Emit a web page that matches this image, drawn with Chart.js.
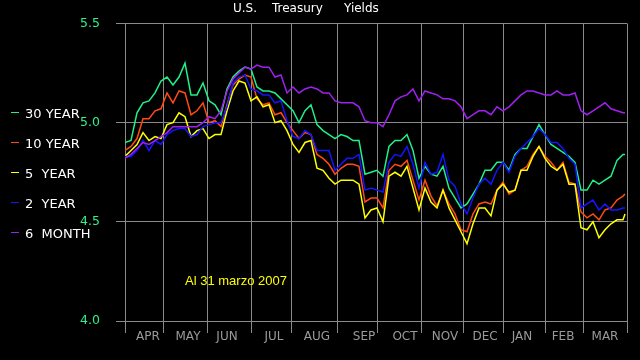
<!DOCTYPE html>
<html>
<head>
<meta charset="utf-8">
<title>U.S. Treasury Yields</title>
<script src="https://cdn.jsdelivr.net/npm/chart.js@4.4.1/dist/chart.umd.min.js"></script>
<style>
  html, body { margin: 0; padding: 0; background: #000; }
  canvas { display: block; }
</style>
</head>
<body>
<canvas id="yields" width="640" height="360"></canvas>
<script>
// trading day index (0 = first trading day of April 2006), sampled every 3 days
const tradingDays = [
    0, 3, 6, 9, 12, 15, 18, 21, 24, 27, 30, 33, 36, 39, 42, 45, 48, 51, 54, 57, 60,
    63, 66, 69, 72, 75, 78, 81, 84, 87, 90, 93, 96, 99, 102, 105, 108, 111, 114, 117,
    120, 123, 126, 129, 132, 135, 138, 141, 144, 147, 150, 153, 156, 159, 162, 165,
    168, 171, 174, 177, 180, 183, 186, 189, 192, 195, 198, 201, 204, 207, 210, 213,
    216, 219, 222, 225, 228, 231, 234, 237, 240, 243, 246, 249, 250
];

const monthNames = ['APR', 'MAY', 'JUN', 'JUL', 'AUG', 'SEP', 'OCT', 'NOV', 'DEC', 'JAN', 'FEB', 'MAR'];
const monthStartDays = [0, 19, 41, 63, 83, 106, 126, 148, 169, 189, 210, 229, 251];
const monthLabelDays = [11.5, 31.5, 51, 74.5, 96, 119.5, 140, 160, 180, 198.5, 219, 240];
const yieldTicks = [4.0, 4.5, 5.0, 5.5];

const titleWords = ['U.S.', 'Treasury', 'Yields'];
const seriesNames = ['30 YEAR', '10 YEAR', '5  YEAR', '2  YEAR', '6  MONTH'];
const seriesColors = ['#20f088', '#ff4a14', '#ffff00', '#1414ff', '#a020f0'];

const thirtyYear = [
    4.90, 4.91, 5.05, 5.10, 5.11, 5.15, 5.21, 5.23, 5.19, 5.23, 5.30, 5.14, 5.14, 5.20, 5.11, 5.09, 5.04, 5.17, 5.23, 5.26, 5.28, 5.27,
    5.18, 5.16, 5.16, 5.15, 5.12, 5.09, 5.06, 5.00, 5.06, 5.09, 4.99, 4.96, 4.94, 4.92, 4.94, 4.93, 4.91, 4.91, 4.74, 4.75, 4.76,
    4.73, 4.88, 4.91, 4.91, 4.94, 4.86, 4.72, 4.78, 4.74, 4.73, 4.78, 4.67, 4.62, 4.57, 4.59, 4.64, 4.69, 4.76, 4.76, 4.80, 4.80,
    4.76, 4.84, 4.87, 4.87, 4.93, 4.99, 4.94, 4.89, 4.87, 4.85, 4.83, 4.80, 4.66, 4.66, 4.71, 4.69, 4.71, 4.73, 4.81, 4.84, 4.84
];
const tenYear = [
    4.86, 4.88, 4.92, 5.02, 5.02, 5.06, 5.07, 5.15, 5.10, 5.16, 5.15, 5.04, 5.06, 5.10, 5.00, 5.01, 4.98, 5.09, 5.19, 5.22, 5.24, 5.23,
    5.12, 5.09, 5.10, 5.04, 5.05, 5.00, 4.96, 4.92, 4.95, 4.94, 4.84, 4.82, 4.79, 4.74, 4.77, 4.79, 4.79, 4.78, 4.60, 4.62, 4.62,
    4.57, 4.76, 4.79, 4.78, 4.81, 4.71, 4.61, 4.71, 4.63, 4.58, 4.66, 4.59, 4.54, 4.46, 4.45, 4.54, 4.59, 4.60, 4.59, 4.66, 4.70,
    4.64, 4.66, 4.76, 4.78, 4.84, 4.88, 4.83, 4.80, 4.76, 4.80, 4.70, 4.69, 4.55, 4.52, 4.54, 4.51, 4.56, 4.57, 4.61, 4.63, 4.64
];
const fiveYear = [
    4.83, 4.86, 4.89, 4.95, 4.91, 4.93, 4.92, 4.99, 5.00, 5.05, 5.03, 4.93, 4.96, 4.97, 4.92, 4.94, 4.94, 5.06, 5.16, 5.21, 5.20, 5.11,
    5.13, 5.08, 5.09, 5.00, 5.01, 4.96, 4.89, 4.85, 4.90, 4.91, 4.77, 4.76, 4.72, 4.69, 4.71, 4.71, 4.71, 4.69, 4.52, 4.56, 4.57,
    4.50, 4.73, 4.75, 4.73, 4.78, 4.67, 4.56, 4.67, 4.60, 4.57, 4.66, 4.57, 4.51, 4.45, 4.39, 4.49, 4.57, 4.57, 4.53, 4.66, 4.69,
    4.65, 4.66, 4.76, 4.76, 4.83, 4.88, 4.82, 4.78, 4.76, 4.79, 4.69, 4.69, 4.47, 4.46, 4.50, 4.42, 4.46, 4.49, 4.51, 4.51, 4.54
];
const twoYear = [
    4.83, 4.83, 4.86, 4.91, 4.86, 4.91, 4.89, 4.94, 4.96, 4.97, 4.97, 4.93, 4.94, 4.98, 4.99, 5.00, 5.00, 5.08, 5.20, 5.23, 5.24, 5.17,
    5.16, 5.14, 5.14, 5.10, 5.11, 5.01, 4.93, 4.92, 4.96, 4.94, 4.86, 4.86, 4.86, 4.76, 4.79, 4.82, 4.82, 4.84, 4.66, 4.67, 4.66,
    4.65, 4.80, 4.84, 4.83, 4.88, 4.79, 4.67, 4.80, 4.74, 4.75, 4.84, 4.71, 4.68, 4.59, 4.54, 4.62, 4.69, 4.72, 4.69, 4.76, 4.80,
    4.75, 4.83, 4.87, 4.90, 4.93, 4.97, 4.94, 4.90, 4.90, 4.87, 4.82, 4.79, 4.57, 4.59, 4.61, 4.56, 4.59, 4.56, 4.56, 4.57, 4.57
];
const sixMonth = [
    4.82, 4.84, 4.87, 4.90, 4.89, 4.91, 4.93, 4.95, 4.98, 4.98, 4.98, 4.98, 4.98, 5.00, 5.03, 5.02, 5.06, 5.16, 5.22, 5.25, 5.28, 5.27,
    5.29, 5.28, 5.28, 5.23, 5.24, 5.15, 5.18, 5.15, 5.17, 5.18, 5.17, 5.15, 5.15, 5.11, 5.10, 5.10, 5.10, 5.08, 5.01, 5.00, 5.00,
    4.98, 5.04, 5.11, 5.13, 5.14, 5.17, 5.11, 5.16, 5.15, 5.14, 5.12, 5.12, 5.11, 5.08, 5.02, 5.04, 5.06, 5.06, 5.04, 5.08, 5.06,
    5.08, 5.11, 5.14, 5.16, 5.16, 5.15, 5.14, 5.14, 5.16, 5.14, 5.14, 5.15, 5.06, 5.04, 5.06, 5.08, 5.10, 5.07, 5.06, 5.05, 5.05
];

const seriesValues = [thirtyYear, tenYear, fiveYear, twoYear, sixMonth];
const GRID = '#8a8a8a';

function toPoints(values) {
    return values.map((v, i) => ({ x: tradingDays[i], y: v }));
}

// black background, title, left legend and the date note
const overlayPlugin = {
    id: 'overlay',
    beforeDraw(chart) {
        const ctx = chart.ctx;
        ctx.save();
        ctx.fillStyle = '#000';
        ctx.fillRect(0, 0, chart.width, chart.height);
        ctx.restore();
    },
    afterDraw(chart) {
        const ctx = chart.ctx;
        ctx.save();
        ctx.textAlign = 'left';
        ctx.textBaseline = 'alphabetic';

        // title words are spread out with wide gaps
        ctx.fillStyle = '#ffffff';
        ctx.font = '12px "DejaVu Sans"';
        const titleX = [233, 272, 344];
        titleWords.forEach((w, i) => ctx.fillText(w, titleX[i], 12));

        ctx.font = '13px "DejaVu Sans"';
        chart.data.datasets.forEach((ds, i) => {
            const base = 118 + i * 30;
            ctx.strokeStyle = ds.borderColor;
            ctx.lineWidth = 1;
            ctx.beginPath();
            ctx.moveTo(11, base - 5.5);
            ctx.lineTo(19, base - 5.5);
            ctx.stroke();
            ctx.fillStyle = '#ffffff';
            ctx.fillText(ds.label, 25, base);
        });

        ctx.fillStyle = '#ffff00';
        ctx.font = '13px "Liberation Sans"';
        ctx.fillText('Al 31 marzo 2007', 185, 285);
        ctx.restore();
    }
};

Chart.defaults.font.family = 'DejaVu Sans';

new Chart(document.getElementById('yields'), {
    type: 'line',
    data: {
        datasets: seriesNames.map((name, i) => ({
            label: name,
            data: toPoints(seriesValues[i]),
            borderColor: seriesColors[i],
            backgroundColor: seriesColors[i],
            borderWidth: 1.5,
            pointRadius: 0,
            tension: 0,
            fill: false,
            order: 5 - i
        }))
    },
    options: {
        responsive: false,
        animation: false,
        devicePixelRatio: 1,
        layout: { padding: { top: 21, right: 13, bottom: 0, left: 0 } },
        plugins: {
            legend: { display: false },
            title: { display: false },
            tooltip: { enabled: false }
        },
        scales: {
            x: {
                type: 'linear',
                min: 0,
                max: 251,
                afterBuildTicks: scale => {
                    const vals = monthStartDays.concat(monthLabelDays).sort((a, b) => a - b);
                    scale.ticks = vals.map(v => ({ value: v }));
                },
                afterFit: scale => { scale.height = 39; },
                grid: {
                    color: c => (c.tick && monthStartDays.includes(c.tick.value)) ? GRID : 'rgba(0,0,0,0)',
                    tickLength: 12,
                    lineWidth: 1
                },
                border: { color: GRID },
                ticks: {
                    autoSkip: false,
                    maxRotation: 0,
                    padding: -3,
                    color: '#9a9a9a',
                    font: { size: 12 },
                    callback: value => {
                        const idx = monthLabelDays.indexOf(value);
                        return idx >= 0 ? monthNames[idx] : '';
                    }
                }
            },
            y: {
                min: 4.0,
                max: 5.5,
                afterBuildTicks: scale => { scale.ticks = yieldTicks.map(v => ({ value: v })); },
                afterFit: scale => { scale.width = 125; },
                grid: { color: GRID, tickLength: 9, lineWidth: 1 },
                border: { color: GRID },
                ticks: {
                    padding: 16,
                    color: '#30f088',
                    font: { size: 12.5 },
                    callback: v => v.toFixed(1)
                }
            }
        }
    },
    plugins: [overlayPlugin]
});
</script>
</body>
</html>
